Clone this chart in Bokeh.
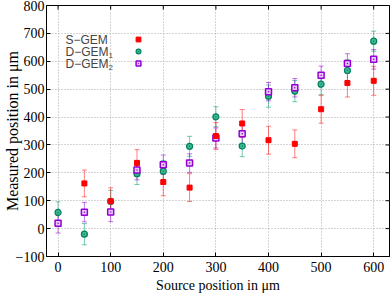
import math
from bokeh.plotting import figure
from bokeh.models import (ColumnDataSource, Whisker, TeeHead, Range1d,
                          FixedTicker, Label, Legend, LegendItem)
from bokeh.embed import file_html
from bokeh.resources import INLINE

NaN = float("nan")

# ---- data ----
source_pos = [0, 50, 100, 150, 200, 250, 300, 350, 400, 450, 500, 550, 600]
s_gem      = [NaN, 162, 98, 235, 167, 147, 332, 377, 317, 304, 428, 522, 530]
s_gem_err  = [48, 48, 48, 48, 49, 50, 48, 50, 50, 50, 50, 50, 52]
d_gem1     = [58, -20, 98, 197, 206, 295, 401, 296, 475, 493, 518, 567, 672]
d_gem1_err = [38, 38, 39, 39, 38, 36, 36, 38, 40, 38, 38, 38, 36]
d_gem2     = [19, 59, 60, 210, 229, 235, 325, 340, 491, 505, 550, 592, 607]
d_gem2_err = [35, 35, 35, 35, 35, 33, 36, 35, 33, 33, 33, 35, 35]

x_ticks = [0, 100, 200, 300, 400, 500, 600]
y_ticks = [-100, 0, 100, 200, 300, 400, 500, 600, 700, 800]
X_MIN, X_MAX = -22, 630
Y_MIN, Y_MAX = -100, 800

RED = "#ff0000"
GREEN = "#009e73"
PURPLE = "#9400d3"

p = figure(width=390, height=298, output_backend="svg", toolbar_location=None,
           x_range=Range1d(X_MIN, X_MAX), y_range=Range1d(Y_MIN, Y_MAX),
           min_border_left=46, min_border_right=1, min_border_top=5,
           min_border_bottom=42)
p.outline_line_color = "black"
p.outline_line_width = 1
p.background_fill_color = "white"
p.border_fill_color = "white"

# axes
for ax in (p.xaxis[0], p.yaxis[0]):
    ax.major_tick_in = 4
    ax.major_tick_out = 0
    ax.minor_tick_in = 0
    ax.minor_tick_out = 0
    ax.axis_line_color = "black"
    ax.major_tick_line_color = "black"
    ax.major_label_text_font = "Liberation Serif"
    ax.major_label_text_font_size = "14px"
    ax.major_label_text_color = "black"
    ax.axis_label_text_font = "Liberation Serif"
    ax.axis_label_text_font_style = "normal"
    ax.axis_label_text_color = "black"

p.xaxis[0].ticker = FixedTicker(ticks=x_ticks)
p.yaxis[0].ticker = FixedTicker(ticks=y_ticks)
p.xaxis[0].major_label_standoff = 5
p.yaxis[0].major_label_standoff = 2
p.yaxis[0].major_label_overrides = {-100: "\u2212100"}
p.xaxis[0].axis_label = "Source position in \u03bcm"
p.xaxis[0].axis_label_text_font_size = "14px"
p.xaxis[0].axis_label_standoff = 3
p.yaxis[0].axis_label = "Measured position in \u03bcm"
p.yaxis[0].axis_label_text_font_size = "16px"
p.yaxis[0].axis_label_standoff = -8

# grid
p.xgrid.ticker = FixedTicker(ticks=x_ticks)
p.ygrid.ticker = FixedTicker(ticks=y_ticks)
for g in (p.xgrid[0], p.ygrid[0]):
    g.grid_line_color = "#a8a8a8"
    g.grid_line_dash = "1 2"
    g.grid_line_width = 1

# mirror ticks on top and right edges (half of each dash is clipped by the frame)
p.scatter(x=x_ticks, y=[Y_MAX] * len(x_ticks), marker="dash", angle=math.pi / 2,
          size=8, line_color="black", line_width=1)
p.scatter(x=[X_MAX] * len(y_ticks), y=y_ticks, marker="dash",
          size=8, line_color="black", line_width=1)

def make_src(vals, errs):
    return ColumnDataSource(dict(
        x=source_pos, y=vals,
        upper=[v + e for v, e in zip(vals, errs)],
        lower=[v - e for v, e in zip(vals, errs)]))

src_s = make_src(s_gem, s_gem_err)
src_1 = make_src(d_gem1, d_gem1_err)
src_2 = make_src(d_gem2, d_gem2_err)

def add_whisker(src, color, alpha):
    w = Whisker(base="x", upper="upper", lower="lower", source=src,
                line_color=color, line_alpha=alpha, line_width=1,
                upper_head=TeeHead(size=5, line_color=color, line_alpha=alpha),
                lower_head=TeeHead(size=5, line_color=color, line_alpha=alpha))
    p.add_layout(w)

add_whisker(src_1, GREEN, 0.55)
add_whisker(src_2, PURPLE, 0.55)
add_whisker(src_s, RED, 0.5)

r1 = p.scatter("x", "y", source=src_1, marker="circle_dot", size=6,
               fill_color="#3fb995", line_color="#00805c", line_width=1.2)
r2 = p.scatter("x", "y", source=src_2, marker="square_dot", size=6,
               fill_color="#e6c8f5", line_color=PURPLE, line_width=1.5)
rs = p.scatter("x", "y", source=src_s, marker="square", size=5,
               fill_color=RED, line_color=RED, line_width=1)

# legend markers (to the right of the texts)
legend = Legend(items=[LegendItem(label=" ", renderers=[rs]),
                       LegendItem(label=" ", renderers=[r1]),
                       LegendItem(label=" ", renderers=[r2])],
                location=(86, 187), glyph_width=12, glyph_height=12, spacing=0,
                padding=0, margin=0, label_standoff=0, label_width=0,
                label_height=12, label_text_font_size="6px",
                border_line_color=None, background_fill_alpha=0)
p.add_layout(legend)

# legend texts
FONT = "Liberation Sans"
p.add_layout(Label(x=19, y=217, x_units="screen", y_units="screen", text="S\u2212GEM",
                   text_font=FONT, text_font_size="12px", text_baseline="middle"))
p.add_layout(Label(x=19, y=205, x_units="screen", y_units="screen", text="D\u2212GEM",
                   text_font=FONT, text_font_size="12px", text_baseline="middle"))
p.add_layout(Label(x=62, y=201, x_units="screen", y_units="screen", text="1",
                   text_font=FONT, text_font_size="8px", text_baseline="middle"))
p.add_layout(Label(x=19, y=193, x_units="screen", y_units="screen", text="D\u2212GEM",
                   text_font=FONT, text_font_size="12px", text_baseline="middle"))
p.add_layout(Label(x=62, y=189, x_units="screen", y_units="screen", text="2",
                   text_font=FONT, text_font_size="8px", text_baseline="middle"))

open("out.html", "w").write(file_html(p, INLINE))
